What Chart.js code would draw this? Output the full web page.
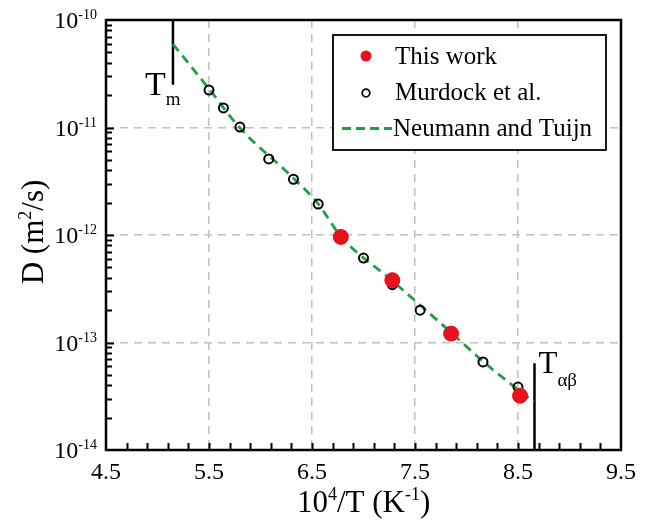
<!DOCTYPE html>
<html>
<head>
<meta charset="utf-8">
<script src="https://cdn.jsdelivr.net/npm/chart.js@4.4.1/dist/chart.umd.min.js"></script>
<style>
  html, body { margin: 0; background: #fff; }
</style>
</head>
<body>
<canvas id="chart" width="649" height="525"></canvas>
<script>
// Data
const thisWorkX = [6.78, 7.28, 7.85, 8.52];
const thisWorkD = [9.6e-13, 3.8e-13, 1.21e-13, 3.2e-14];

const murdockX = [5.50, 5.64, 5.80, 6.08, 6.32, 6.56, 7.00, 7.28, 7.55, 8.16, 8.50];
const murdockD = [2.23e-11, 1.52e-11, 1.01e-11, 5.1e-12, 3.3e-12, 1.94e-12, 6.1e-13, 3.45e-13, 2.0e-13, 6.6e-14, 3.85e-14];

// Neumann and Tuijn curve
const neumannX = [5.15, 5.50, 5.79, 6.325, 6.558, 6.782, 7.277, 7.85, 8.16, 8.655];
const neumannD = [5.98e-11, 2.29e-11, 1.015e-11, 3.34e-12, 1.96e-12, 9.66e-13, 3.77e-13, 1.24e-13, 6.68e-14, 2.78e-14];

// Tm and T(alpha-beta) markers
const tmX = [5.15, 5.15];
const tmD = [1e-10, 2.5e-11];
const tabX = [8.66, 8.66];
const tabD = [6.4e-14, 1e-14];

const xTicks = [4.5, 5.5, 6.5, 7.5, 8.5, 9.5];
const xTickLabels = ['4.5', '5.5', '6.5', '7.5', '8.5', '9.5'];
const yExps = [-14, -13, -12, -11, -10];

const FONT = '"Liberation Serif", "Times New Roman", serif';
const RED = '#e8101c';
const GREEN = '#1f9e48';

const toPts = (xs, ys) => xs.map((x, i) => ({ x, y: ys[i] }));

// draws text with raised / lowered parts, returns end x
function drawRich(ctx, parts, x, y) {
  parts.forEach(p => {
    ctx.font = `${p.size}px ${FONT}`;
    ctx.fillText(p.t, x, y + (p.dy || 0));
    x += ctx.measureText(p.t).width;
  });
  return x;
}
function richWidth(ctx, parts) {
  let w = 0;
  parts.forEach(p => { ctx.font = `${p.size}px ${FONT}`; w += ctx.measureText(p.t).width; });
  return w;
}

const decorPlugin = {
  id: 'decor',
  afterDraw(chart) {
    const { ctx, chartArea: a, scales: { x, y } } = chart;
    ctx.save();
    ctx.fillStyle = '#000';
    ctx.strokeStyle = '#000';

    // inner tick marks
    ctx.lineWidth = 2;
    ctx.beginPath();
    for (let v = 4.7; v < 9.45; v += 0.2) {
      const px = Math.round(x.getPixelForValue(v)) + 0.5;
      ctx.moveTo(px, a.bottom);
      ctx.lineTo(px, a.bottom - 7);
    }
    yExps.forEach(e => {
      for (let m = 1; m <= 9; m++) {
        const val = m * Math.pow(10, e);
        if (val >= 1e-10 || val <= 1e-14) continue;
        const py = Math.round(y.getPixelForValue(val)) + 0.5;
        ctx.moveTo(a.left, py);
        ctx.lineTo(a.left + (m === 1 ? 8 : 6), py);
      }
    });
    ctx.stroke();

    // frame
    ctx.lineWidth = 2.5;
    ctx.strokeRect(a.left, a.top, a.right - a.left, a.bottom - a.top);

    // x tick labels
    ctx.textBaseline = 'alphabetic';
    ctx.textAlign = 'center';
    ctx.font = `24px ${FONT}`;
    xTicks.forEach((v, i) => {
      ctx.fillText(xTickLabels[i], x.getPixelForValue(v), a.bottom + 29);
    });

    // y tick labels 10^e
    ctx.textAlign = 'left';
    yExps.forEach(e => {
      const py = y.getPixelForValue(Math.pow(10, e));
      const parts = [{ t: '10', size: 24, dy: 8 }, { t: String(e), size: 14, dy: -1 }];
      const w = richWidth(ctx, parts);
      drawRich(ctx, parts, a.left - 9 - w, py);
    });

    // axis titles
    const xt = [{ t: '10', size: 31 }, { t: '4', size: 18, dy: -12 }, { t: '/T (K', size: 31 }, { t: '-1', size: 18, dy: -12 }, { t: ')', size: 31 }];
    drawRich(ctx, xt, 297, 512);

    ctx.save();
    ctx.translate(43, 232);
    ctx.rotate(-Math.PI / 2);
    const yt = [{ t: 'D (m', size: 31 }, { t: '2', size: 18, dy: -12 }, { t: '/s)', size: 31 }];
    const yw = richWidth(ctx, yt);
    drawRich(ctx, yt, -yw / 2, 0);
    ctx.restore();

    // Tm and Tab labels
    drawRich(ctx, [{ t: 'T', size: 34 }, { t: 'm', size: 19, dy: 10 }], x.getPixelForValue(tmX[0]) - 28, a.top + 75);
    drawRich(ctx, [{ t: 'T', size: 31 }, { t: '\u03b1\u03b2', size: 19, dy: 13 }], x.getPixelForValue(tabX[0]) + 4, 373);

    // legend
    const lx = 333, ly = 35, lw = 273, lh = 115;
    ctx.fillStyle = '#fff';
    ctx.fillRect(lx, ly, lw, lh);
    ctx.lineWidth = 1.8;
    ctx.strokeRect(lx, ly, lw, lh);
    ctx.fillStyle = RED;
    ctx.beginPath(); ctx.arc(366, 56, 5.5, 0, Math.PI * 2); ctx.fill();
    ctx.strokeStyle = '#000'; ctx.lineWidth = 1.8;
    ctx.beginPath(); ctx.arc(366, 93, 3.8, 0, Math.PI * 2); ctx.stroke();
    ctx.strokeStyle = GREEN; ctx.lineWidth = 2.8; ctx.setLineDash([9, 5]);
    ctx.beginPath(); ctx.moveTo(342, 128.5); ctx.lineTo(392, 128.5); ctx.stroke();
    ctx.setLineDash([]);
    ctx.fillStyle = '#000';
    ctx.font = `25px ${FONT}`;
    ctx.textBaseline = 'middle';
    ctx.fillText('This work', 395, 57);
    ctx.fillText('Murdock et al.', 395, 93);
    ctx.fillText('Neumann and Tuijn', 393, 129);
    ctx.restore();
  }
};

const gridStyle = {
  color: '#c0c0c0',
  lineWidth: 1.5,
  drawTicks: false
};

new Chart(document.getElementById('chart'), {
  type: 'scatter',
  data: {
    datasets: [
      {
        label: 'This work',
        data: toPts(thisWorkX, thisWorkD),
        backgroundColor: RED,
        borderColor: RED,
        pointRadius: 7.5,
        order: 0
      },
      {
        label: 'Murdock et al.',
        data: toPts(murdockX, murdockD),
        backgroundColor: 'rgba(255,255,255,0)',
        borderColor: '#000',
        borderWidth: 2,
        pointRadius: 4.5,
        order: 1
      },
      {
        label: 'Neumann and Tuijn',
        data: toPts(neumannX, neumannD),
        showLine: true,
        borderColor: GREEN,
        borderWidth: 2.8,
        borderDash: [9, 6],
        cubicInterpolationMode: 'monotone',
        pointRadius: 0,
        order: 2
      },
      {
        label: 'Tm',
        data: toPts(tmX, tmD),
        showLine: true,
        borderColor: '#000',
        borderWidth: 2.5,
        pointRadius: 0,
        order: 3
      },
      {
        label: 'Tab',
        data: toPts(tabX, tabD),
        showLine: true,
        borderColor: '#000',
        borderWidth: 2.5,
        pointRadius: 0,
        order: 3
      }
    ]
  },
  options: {
    responsive: false,
    animation: false,
    layout: { padding: { left: 106, top: 20, right: 28, bottom: 75 } },
    plugins: { legend: { display: false }, tooltip: { enabled: false } },
    scales: {
      x: {
        type: 'linear',
        min: 4.5,
        max: 9.5,
        afterBuildTicks: s => { s.ticks = xTicks.map(v => ({ value: v })); },
        ticks: { display: false },
        grid: gridStyle,
        border: { display: false, dash: [8, 6] }
      },
      y: {
        type: 'logarithmic',
        min: 1e-14,
        max: 1e-10,
        afterBuildTicks: s => { s.ticks = yExps.map(e => ({ value: Math.pow(10, e) })); },
        ticks: { display: false },
        grid: gridStyle,
        border: { display: false, dash: [8, 6] }
      }
    }
  },
  plugins: [decorPlugin]
});
</script>
</body>
</html>
